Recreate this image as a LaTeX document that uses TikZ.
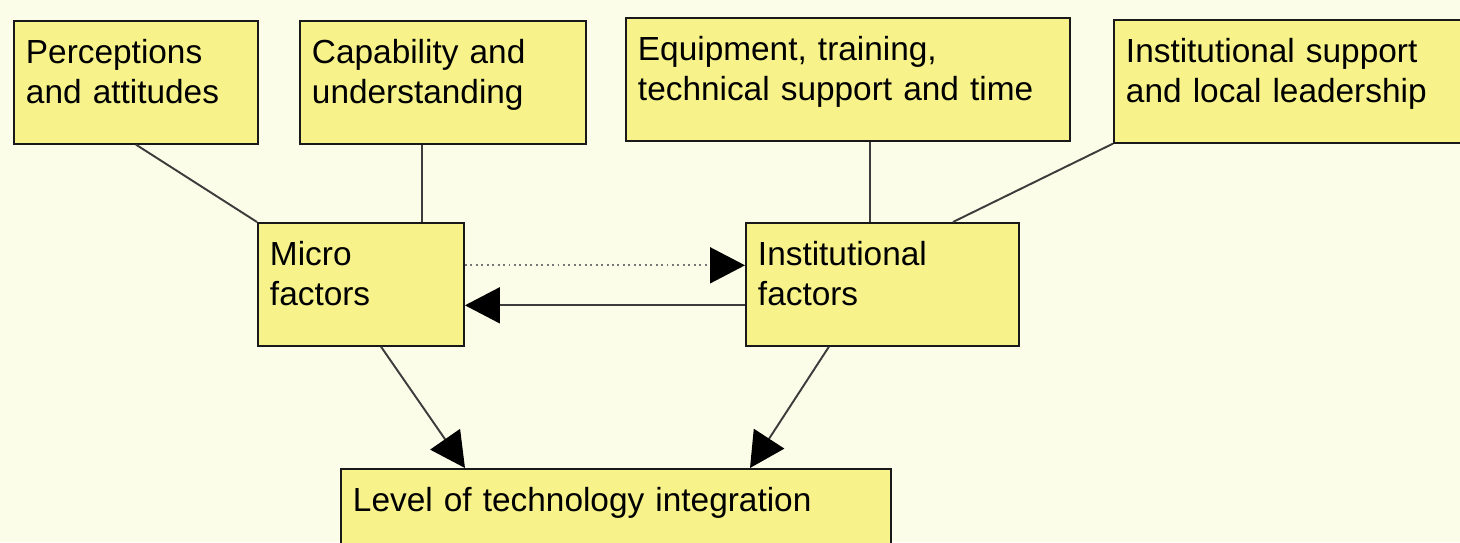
\documentclass[tikz,border=0pt]{standalone}
\usepackage{fontspec}
\setmainfont{Liberation Sans}
\usetikzlibrary{arrows.meta}

\definecolor{paper}{RGB}{252,253,232}
\definecolor{boxfill}{RGB}{247,243,138}
\definecolor{linkgray}{RGB}{60,60,60}

\begin{document}
\begin{tikzpicture}[->,>={Triangle[length=0.7cm,width=0.72cm,color=black]},
  line width=1.1pt,
  factor/.style={draw=black!90,fill=boxfill,anchor=north west,align=left,
    inner xsep=0.24cm,inner ysep=0.37cm,text depth=1.23cm,
    font=\fontsize{19}{22.5}\selectfont},
  link/.style={-,draw=linkgray}]
  \clip (0,0) rectangle (29.2,-10.84);
  \fill[paper] (0,0) rectangle (29.2,-10.84);
  % top row
  \node[factor,text width=4.40cm] (perc) at (0.26,-0.40) {Perceptions\\and attitudes};
  \node[factor,text width=5.24cm] (capab) at (5.98,-0.40) {Capability and\\understanding};
  \node[factor,text width=8.40cm] (equip) at (12.50,-0.34) {Equipment, training,\\technical support and time};
  \node[factor,text width=7.50cm] (instsup) at (22.26,-0.38) {Institutional support\\and local leadership};
  % middle row
  \node[factor,text width=3.64cm] (micro) at (5.14,-4.44) {Micro\\factors};
  \node[factor,text width=4.98cm] (instfac) at (14.90,-4.44) {Institutional\\factors};
  % bottom
  \node[factor,text width=10.52cm,text depth=2cm] (level) at (6.80,-9.36) {Level of technology integration};
  \path
  (perc.south) edge [link] (micro.north west)
  ([xshift=1.22cm]micro.north |- capab.south) edge [link] ([xshift=1.22cm]micro.north)
  ([xshift=-0.25cm]instfac.north |- equip.south) edge [link] ([xshift=-0.25cm]instfac.north)
  (instsup.south west) edge [link] ([xshift=1.41cm]instfac.north)
  ([yshift=0.38cm]micro.east) edge [draw=linkgray!70,dotted] ([yshift=0.38cm]micro.east -| instfac.west)
  ([yshift=-0.42cm]instfac.west) edge [draw=linkgray] ([yshift=-0.42cm]instfac.west -| micro.east)
  ([xshift=0.4cm]micro.south) edge [draw=linkgray] ([xshift=2.5cm]level.north west)
  ([xshift=-1.07cm]instfac.south) edge [draw=linkgray] ([xshift=8.2cm]level.north west);
\end{tikzpicture}
\end{document}
